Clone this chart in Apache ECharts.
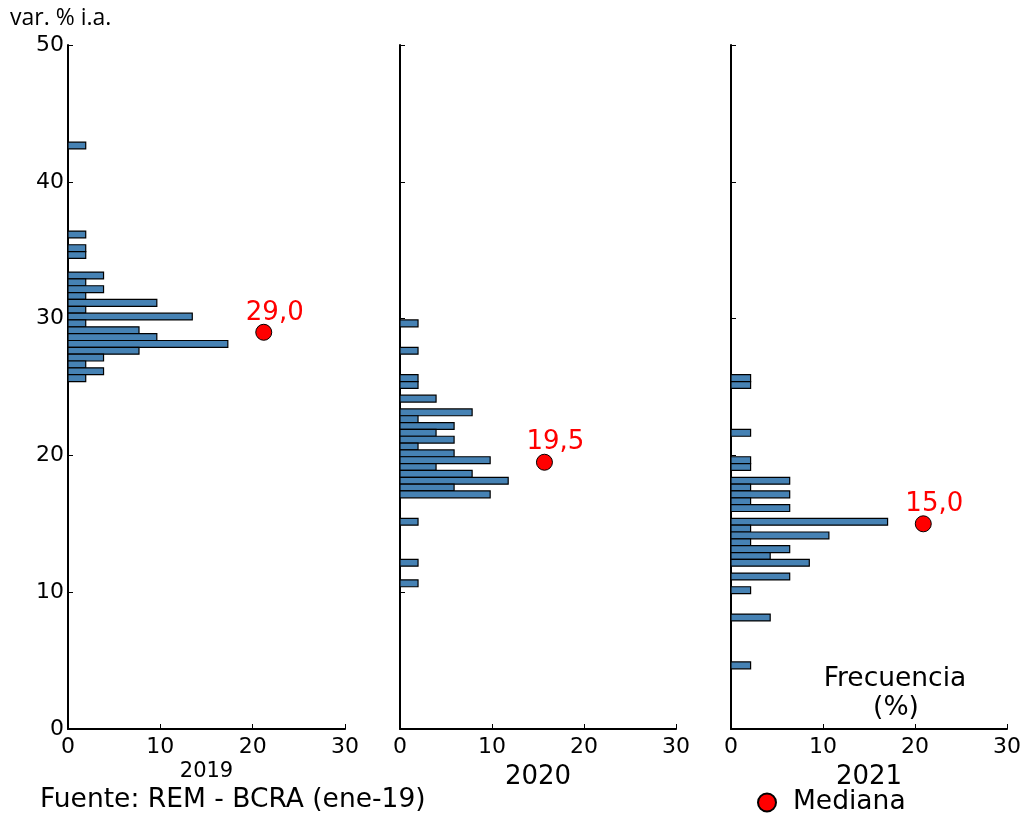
<!DOCTYPE html>
<html>
<head>
<meta charset="utf-8">
<script src="https://cdn.jsdelivr.net/npm/echarts@6/dist/echarts.min.js"></script>
<style>
html,body{margin:0;padding:0;background:#fff;}
#main{width:1030px;height:815px;}
</style>
</head>
<body>
<div id="main"></div>
<script>
// Bin centres (var. % i.a.) and frequencies (%) per year
var years = ['2019', '2020', '2021'];
var bins2019 = [42.65, 36.15, 35.15, 34.65, 33.15, 32.65, 32.15, 31.65, 31.15, 30.65, 30.15, 29.65, 29.15, 28.65, 28.15, 27.65, 27.15, 26.65, 26.15, 25.65];
var freq2019 = [1.92, 1.92, 1.92, 1.92, 3.85, 1.92, 3.85, 1.92, 9.62, 1.92, 13.46, 1.92, 7.69, 9.62, 17.31, 7.69, 3.85, 1.92, 3.85, 1.92];
var bins2020 = [29.65, 27.65, 25.65, 25.15, 24.15, 23.15, 22.65, 22.15, 21.65, 21.15, 20.65, 20.15, 19.65, 19.15, 18.65, 18.15, 17.65, 17.15, 15.15, 12.15, 10.65];
var freq2020 = [1.96, 1.96, 1.96, 1.96, 3.92, 7.84, 1.96, 5.88, 3.92, 5.88, 1.96, 5.88, 9.80, 3.92, 7.84, 11.76, 5.88, 9.80, 1.96, 1.96, 1.96];
var bins2021 = [25.65, 25.15, 21.65, 19.65, 19.15, 18.15, 17.65, 17.15, 16.65, 16.15, 15.15, 14.65, 14.15, 13.65, 13.15, 12.65, 12.15, 11.15, 10.15, 8.15, 4.65];
var freq2021 = [2.13, 2.13, 2.13, 2.13, 2.13, 6.38, 2.13, 6.38, 2.13, 6.38, 17.02, 2.13, 10.64, 2.13, 6.38, 4.26, 8.51, 6.38, 2.13, 4.26, 2.13];
var binWidth = 0.5;
var medianValues = [29.0, 19.5, 15.0];
var medianX = [21.2, 15.7, 20.9];
var xTicks = [0, 10, 20, 30];
var yTicks = [0, 10, 20, 30, 40, 50];

var bins = [bins2019, bins2020, bins2021];
var freqs = [freq2019, freq2020, freq2021];

var chart = echarts.init(document.getElementById('main'), null, {renderer: 'canvas'});
var FONT = 'DejaVu Sans';
var grids = [
  {left: 68, top: 45, width: 277, height: 684},
  {left: 400, top: 45, width: 276, height: 684},
  {left: 731, top: 45, width: 276, height: 684}
];
var xAxes = [], yAxes = [], series = [];
for (var i = 0; i < 3; i++) {
  xAxes.push({
    gridIndex: i, type: 'value', min: xTicks[0], max: xTicks[xTicks.length - 1], interval: 10,
    axisLine: {show: true, onZero: false, lineStyle: {color: '#000', width: 2}},
    axisTick: {show: true, inside: true, length: 5, lineStyle: {color: '#000', width: 1}},
    axisLabel: {show: true, color: '#000', fontFamily: FONT, fontSize: 22, margin: 7},
    splitLine: {show: false}
  });
  yAxes.push({
    gridIndex: i, type: 'value', min: yTicks[0], max: yTicks[yTicks.length - 1], interval: 10,
    axisLine: {show: true, onZero: false, lineStyle: {color: '#000', width: 2}},
    axisTick: {show: true, inside: true, length: 5, lineStyle: {color: '#000', width: 1}},
    axisLabel: {show: i === 0, color: '#000', fontFamily: FONT, fontSize: 22, margin: 4},
    splitLine: {show: false}
  });
  var data = bins[i].map(function (c, k) { return [freqs[i][k], c]; });
  series.push({
    type: 'custom',
    xAxisIndex: i, yAxisIndex: i,
    data: data,
    renderItem: function (params, api) {
      var f = api.value(0), c = api.value(1);
      var p1 = api.coord([0, c + binWidth / 2]);
      var p2 = api.coord([f, c - binWidth / 2]);
      return {
        type: 'rect',
        shape: {x: p1[0], y: p1[1], width: p2[0] - p1[0], height: p2[1] - p1[1]},
        style: {fill: '#4682b4', stroke: '#000', lineWidth: 1.2}
      };
    },
    silent: true
  });
  series.push({
    type: 'scatter',
    name: 'Mediana',
    xAxisIndex: i, yAxisIndex: i,
    data: [[medianX[i], medianValues[i]]],
    symbol: 'circle', symbolSize: 16,
    itemStyle: {color: '#ff0000', borderColor: '#000', borderWidth: 1, opacity: 1},
    label: {
      show: true, position: 'top', distance: 0, offset: [11, 2],
      color: '#ff0000', fontFamily: FONT, fontSize: 26,
      formatter: function (p) { return p.value[1].toFixed(1).replace('.', ','); }
    },
    z: 5
  });
}

var yearFont = [21, 26, 26];
var yearY = [772, 777, 777];
var graphics = [];
for (var j = 0; j < 3; j++) {
  graphics.push({
    type: 'text', x: grids[j].left + grids[j].width / 2, y: yearY[j],
    style: {text: years[j], fill: '#000', font: yearFont[j] + 'px "' + FONT + '"', textAlign: 'center', textVerticalAlign: 'middle'}
  });
}
graphics.push({type: 'text', x: 10, y: 18, style: {text: 'var. % i.a.', fill: '#000', font: '23px "Open Sans"', textAlign: 'left', textVerticalAlign: 'middle'}});
graphics.push({type: 'text', x: 40, y: 800, style: {text: 'Fuente: REM - BCRA (ene-19)', fill: '#000', font: '26.5px "' + FONT + '"', textAlign: 'left', textVerticalAlign: 'middle'}});
graphics.push({type: 'text', x: 895, y: 679, style: {text: 'Frecuencia', fill: '#000', font: '26.5px "' + FONT + '"', textAlign: 'center', textVerticalAlign: 'middle'}});
graphics.push({type: 'text', x: 896, y: 708, style: {text: '(%)', fill: '#000', font: '26.5px "' + FONT + '"', textAlign: 'center', textVerticalAlign: 'middle'}});

chart.setOption({
  animation: false,
  backgroundColor: '#fff',
  grid: grids,
  xAxis: xAxes,
  yAxis: yAxes,
  series: series,
  legend: {
    data: [{name: 'Mediana', icon: 'circle'}],
    left: 757, top: 789, itemWidth: 18, itemHeight: 18, itemGap: 6, padding: 0,
    textStyle: {color: '#000', fontFamily: FONT, fontSize: 26.5, padding: [0, 0, 0, 12]},
    selectedMode: false
  },
  graphic: graphics
});
</script>
</body>
</html>
